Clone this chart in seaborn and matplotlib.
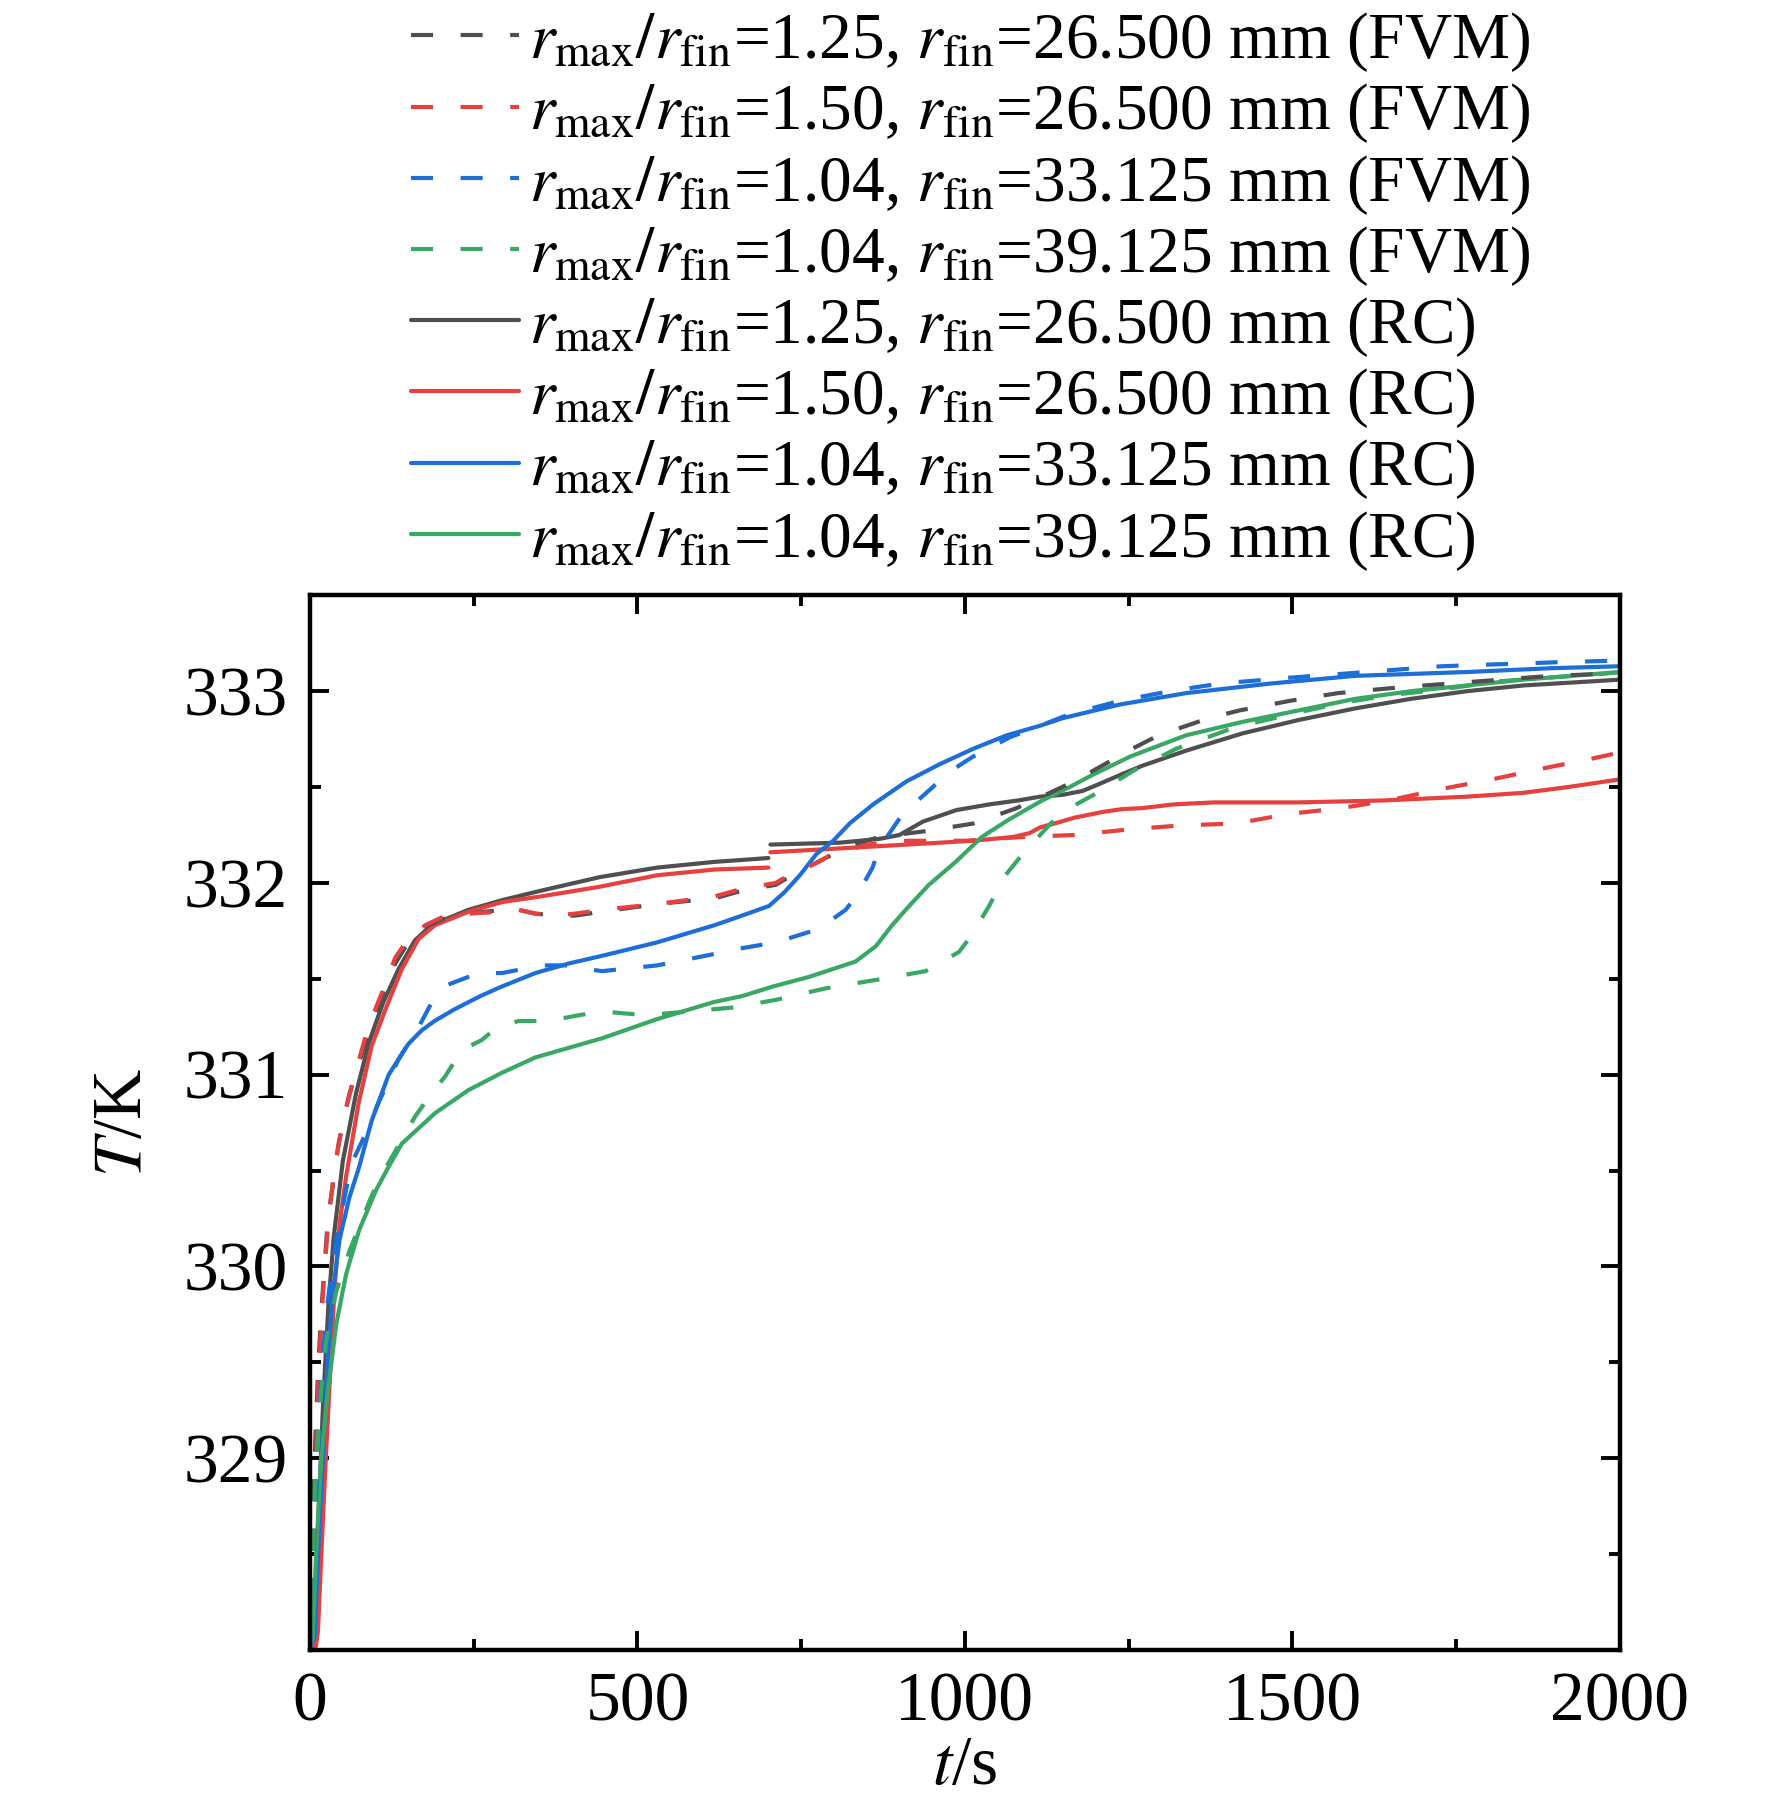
import numpy as np
import pandas as pd
import matplotlib
matplotlib.use('Agg')
import matplotlib.pyplot as plt
import seaborn as sns
from matplotlib.ticker import FixedLocator, MultipleLocator
from matplotlib.lines import Line2D

sns.set_theme(style='ticks')
plt.rcParams['font.family'] = ['Liberation Serif', 'DejaVu Serif']
plt.rcParams['mathtext.fontset'] = 'stix'
for k in ['text.color', 'axes.labelcolor', 'xtick.color', 'ytick.color', 'axes.edgecolor']:
    plt.rcParams[k] = 'black'

# ---- data (t in s, T in K) ----
# FVM, r_max/r_fin = 1.25, r_fin = 26.500 mm
t_fvm_125 = [0, 4, 8, 12, 17, 27, 44, 60, 80, 106, 130, 150, 176, 201, 242, 293, 318, 344, 374, 405, 446,
             530, 618, 660, 711, 731, 787, 830, 870, 940, 1013, 1079, 1104, 1130, 1167, 1214, 1250, 1296,
             1373, 1420, 1497, 1570, 1664, 1741, 1818, 1895, 1973, 2000]
T_fvm_125 = [328.0, 328.6, 329.1, 329.45, 329.76, 330.24, 330.65, 330.9, 331.12, 331.38, 331.58, 331.69,
             331.77, 331.81, 331.84, 331.86, 331.86, 331.84, 331.83, 331.83, 331.85, 331.89, 331.92, 331.96,
             331.99, 332.03, 332.13, 332.20, 332.24, 332.27, 332.31, 332.39, 332.43, 332.47, 332.53, 332.62,
             332.69, 332.77, 332.86, 332.90, 332.95, 332.99, 333.02, 333.04, 333.06, 333.08, 333.09, 333.09]

# FVM, r_max/r_fin = 1.50, r_fin = 26.500 mm
t_fvm_150 = [0, 4, 7, 9, 12, 17, 22, 30, 40, 53, 69, 89, 110, 130, 150, 176, 201, 242, 293, 318, 344, 374,
             405, 446, 530, 618, 660, 711, 726, 777, 792, 850, 911, 1001, 1089, 1167, 1253, 1330, 1414, 1495,
             1574, 1647, 1728, 1805, 1887, 1960, 2000]
T_fvm_150 = [328.0, 328.5, 328.61, 329.0, 329.35, 329.70, 330.0, 330.31, 330.57, 330.80, 331.01, 331.25,
             331.43, 331.61, 331.71, 331.78, 331.82, 331.84, 331.85, 331.86, 331.84, 331.83, 331.84, 331.86,
             331.89, 331.93, 331.97, 332.0, 332.03, 332.11, 332.14, 332.20, 332.22, 332.22, 332.24, 332.25,
             332.28, 332.30, 332.31, 332.36, 332.39, 332.43, 332.49, 332.54, 332.60, 332.65, 332.68]

# FVM, r_max/r_fin = 1.04, r_fin = 33.125 mm
t_fvm_331 = [0, 7, 12, 17, 27, 40, 55, 65, 79, 104, 135, 166, 191, 211, 257, 293, 354, 395, 425, 446, 530,
             618, 660, 711, 777, 818, 836, 859, 869, 905, 951, 972, 1013, 1069, 1115, 1160, 1237, 1313, 1390,
             1494, 1574, 1651, 1728, 1810, 1896, 2000]
T_fvm_331 = [328.0, 328.66, 329.0, 329.44, 329.82, 330.14, 330.40, 330.55, 330.65, 330.85, 331.08, 331.25,
             331.41, 331.47, 331.53, 331.53, 331.57, 331.57, 331.55, 331.54, 331.57, 331.63, 331.66, 331.69,
             331.76, 331.86, 331.94, 332.08, 332.18, 332.36, 332.50, 332.57, 332.66, 332.76, 332.82, 332.88,
             332.95, 333.0, 333.04, 333.07, 333.09, 333.11, 333.13, 333.14, 333.15, 333.16]

# FVM, r_max/r_fin = 1.04, r_fin = 39.125 mm
t_fvm_391 = [0, 7, 12, 17, 24, 40, 60, 93, 106, 130, 160, 185, 206, 232, 262, 283, 318, 364, 410, 446, 512,
             645, 711, 787, 874, 940, 991, 1011, 1037, 1062, 1088, 1131, 1165, 1197, 1260, 1323, 1411, 1510,
             1578, 1651, 1731, 1810, 1887, 1973, 2000]
T_fvm_391 = [328.0, 328.82, 329.09, 329.35, 329.60, 329.87, 330.08, 330.36, 330.46, 330.60, 330.78, 330.90,
             330.99, 331.13, 331.18, 331.24, 331.28, 331.28, 331.31, 331.33, 331.31, 331.35, 331.39, 331.45,
             331.50, 331.54, 331.64, 331.73, 331.88, 332.04, 332.15, 332.31, 332.40, 332.46, 332.59, 332.70,
             332.81, 332.89, 332.94, 332.98, 333.01, 333.05, 333.07, 333.09, 333.10]

# RC, r_max/r_fin = 1.25, r_fin = 26.500 mm (two parts, break at 700 s)
t_rc_125a = [0, 8, 14, 20, 28, 36, 50, 70, 90, 112, 135, 160, 185, 242, 293, 353, 442, 530, 618, 660, 700]
T_rc_125a = [328.0, 328.3, 328.8, 329.3, 329.8, 330.15, 330.55, 330.9, 331.17, 331.38, 331.55, 331.70,
             331.78, 331.86, 331.91, 331.96, 332.03, 332.08, 332.11, 332.12, 332.13]
t_rc_125b = [703, 809, 870, 900, 936, 987, 1038, 1081, 1115, 1150, 1180, 1201, 1235, 1270, 1338, 1424,
             1510, 1596, 1681, 1767, 1853, 2000]
T_rc_125b = [332.20, 332.21, 332.23, 332.25, 332.32, 332.38, 332.41, 332.43, 332.45, 332.46, 332.48,
             332.51, 332.56, 332.61, 332.69, 332.78, 332.85, 332.91, 332.96, 333.0, 333.03, 333.06]

# RC, r_max/r_fin = 1.50, r_fin = 26.500 mm (two parts, break at 700 s)
t_rc_150a = [0, 9, 12, 17, 24, 32, 37, 45, 55, 74, 94, 115, 140, 166, 191, 242, 293, 353, 442, 530, 618, 700]
T_rc_150a = [328.0, 328.02, 328.1, 328.49, 329.0, 329.53, 329.87, 330.22, 330.47, 330.85, 331.15, 331.34,
             331.55, 331.71, 331.78, 331.85, 331.90, 331.93, 331.98, 332.04, 332.07, 332.08]
t_rc_150b = [703, 809, 911, 1013, 1074, 1099, 1115, 1137, 1167, 1210, 1240, 1270, 1320, 1381, 1510, 1638,
             1767, 1853, 1921, 2000]
T_rc_150b = [332.16, 332.18, 332.20, 332.22, 332.24, 332.26, 332.29, 332.31, 332.34, 332.37, 332.385,
             332.39, 332.41, 332.42, 332.42, 332.43, 332.45, 332.47, 332.50, 332.54]

# RC, r_max/r_fin = 1.04, r_fin = 33.125 mm
t_rc_331 = [0, 7, 12, 17, 22, 27, 35, 45, 60, 75, 94, 120, 150, 170, 190, 220, 260, 293, 344, 395, 446, 530,
            618, 660, 701, 724, 748, 773, 799, 824, 860, 911, 962, 1013, 1064, 1115, 1150, 1236, 1338, 1467,
            1596, 1767, 1896, 2000]
T_rc_331 = [328.0, 328.07, 328.49, 328.83, 329.18, 329.53, 329.87, 330.14, 330.36, 330.52, 330.76, 331.0,
            331.16, 331.23, 331.28, 331.34, 331.41, 331.46, 331.53, 331.58, 331.62, 331.69, 331.78, 331.83,
            331.88, 331.95, 332.04, 332.15, 332.22, 332.31, 332.41, 332.53, 332.62, 332.70, 332.77, 332.82,
            332.86, 332.93, 332.99, 333.04, 333.08, 333.10, 333.12, 333.13]

# RC, r_max/r_fin = 1.04, r_fin = 39.125 mm
t_rc_391 = [0, 4, 9, 17, 27, 40, 55, 75, 101, 120, 140, 191, 242, 293, 344, 395, 446, 530, 618, 660, 707,
            762, 833, 864, 889, 915, 945, 986, 1026, 1067, 1118, 1160, 1193, 1253, 1338, 1424, 1510, 1596,
            1681, 1767, 1853, 2000]
T_rc_391 = [328.0, 328.07, 328.49, 329.0, 329.35, 329.70, 329.96, 330.19, 330.40, 330.52, 330.64, 330.80,
            330.92, 331.01, 331.09, 331.14, 331.19, 331.29, 331.38, 331.41, 331.46, 331.51, 331.59, 331.67,
            331.78, 331.88, 331.99, 332.11, 332.24, 332.33, 332.43, 332.50, 332.56, 332.66, 332.77, 332.84,
            332.90, 332.96, 333.0, 333.03, 333.06, 333.10]

c_gray, c_red, c_blue, c_green = '#4F4F4F', '#E6403F', '#1D6ED6', '#3AA865'


def lab(ratio, rfin, method):
    return (r'$r_{\mathrm{max}}/r_{\mathrm{fin}}$=' + ratio + r', $r_{\mathrm{fin}}$=' + rfin
            + ' mm (' + method + ')')


series = [
    (lab('1.25', '26.500', 'FVM'), c_gray, 'dash', [(t_fvm_125, T_fvm_125)]),
    (lab('1.50', '26.500', 'FVM'), c_red, 'dash', [(t_fvm_150, T_fvm_150)]),
    (lab('1.04', '33.125', 'FVM'), c_blue, 'dash', [(t_fvm_331, T_fvm_331)]),
    (lab('1.04', '39.125', 'FVM'), c_green, 'dash', [(t_fvm_391, T_fvm_391)]),
    (lab('1.25', '26.500', 'RC'), c_gray, 'solid', [(t_rc_125a, T_rc_125a), (t_rc_125b, T_rc_125b)]),
    (lab('1.50', '26.500', 'RC'), c_red, 'solid', [(t_rc_150a, T_rc_150a), (t_rc_150b, T_rc_150b)]),
    (lab('1.04', '33.125', 'RC'), c_blue, 'solid', [(t_rc_331, T_rc_331)]),
    (lab('1.04', '39.125', 'RC'), c_green, 'solid', [(t_rc_391, T_rc_391)]),
]
dash_ls = (0, (5.3, 6.6))

fig = plt.figure(figsize=(8.86, 9.02), dpi=200)
ax = fig.add_axes([0.175, 0.0854, 0.739, 0.5846])

lw = 1.5
handles = []
# draw RC (solid) first, then FVM dashed on top
for name, col, kind, segs in series[4:] + series[:4]:
    ls = dash_ls if kind == 'dash' else '-'
    for tt, TT in segs:
        df = pd.DataFrame({'t': tt, 'T': TT})
        sns.lineplot(data=df, x='t', y='T', color=col, linewidth=lw, linestyle=ls,
                     sort=False, estimator=None, ax=ax, legend=False)
for name, col, kind, segs in series:
    ls = dash_ls if kind == 'dash' else '-'
    handles.append(Line2D([], [], color=col, lw=lw, linestyle=ls, label=name))

ax.set_xlim(0, 2000)
ax.set_ylim(328.0, 333.5)
ax.xaxis.set_major_locator(MultipleLocator(500))
ax.xaxis.set_minor_locator(MultipleLocator(250))
ax.yaxis.set_major_locator(FixedLocator([329, 330, 331, 332, 333]))
ax.yaxis.set_minor_locator(FixedLocator([328.5, 329.5, 330.5, 331.5, 332.5, 333.5]))
ax.tick_params(which='both', direction='in', top=True, right=True, width=1.4, labelsize=25, pad=8)
ax.tick_params(which='major', length=7)
ax.tick_params(which='minor', length=4)
for sp in ax.spines.values():
    sp.set_linewidth(1.6)
    sp.set_color('black')

ax.set_xlabel(r'$t$/s', fontsize=25, labelpad=0)
ax.set_ylabel(r'$T$/K', fontsize=25, labelpad=10)

fig.legend(handles=handles, loc='upper left', bbox_to_anchor=(0.21, 1.016), frameon=False,
           fontsize=23.5, handlelength=1.65, handletextpad=0.15, labelspacing=0.11, borderpad=0.1)

fig.savefig('out.png', dpi=200, facecolor='white')
